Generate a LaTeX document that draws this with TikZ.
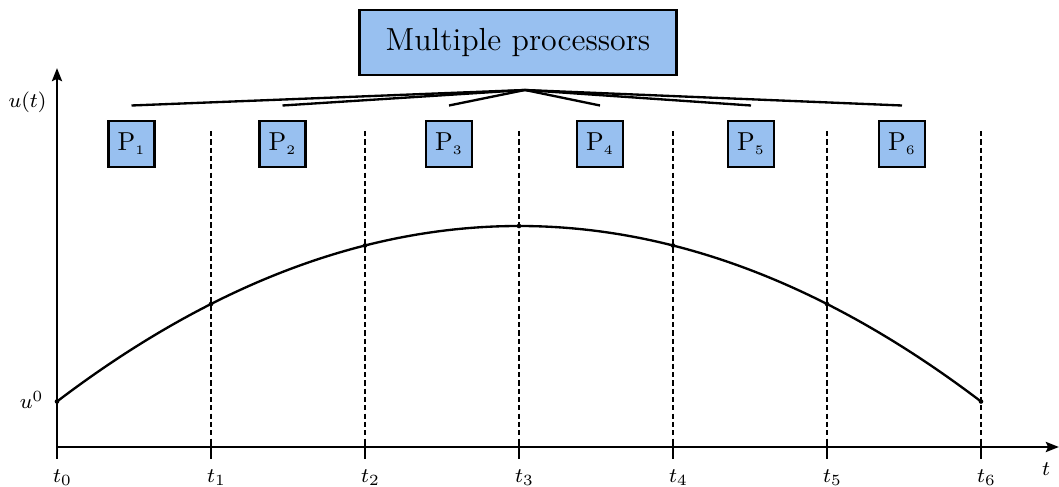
\documentclass[tikz,border=0pt]{standalone}
\usetikzlibrary{arrows.meta}
\definecolor{procblue}{RGB}{152,192,240}
\begin{document}
\begin{tikzpicture}[x=0.385pt,y=-0.385pt,
  axisline/.style={line width=1.1pt,-{Stealth[length=5pt,width=3.8pt,inset=0.8pt]}},
  gridline/.style={line width=0.85pt,dash pattern=on 2pt off 1.2pt},
  tickline/.style={line width=0.9pt},
  fanline/.style={line width=0.9pt},
  procbox/.style={draw,line width=0.9pt,fill=procblue,minimum width=17.7pt,minimum height=17.7pt,inner sep=0pt},
  headbox/.style={draw,line width=0.9pt,fill=procblue,minimum width=122pt,minimum height=25pt,inner sep=0pt,font=\fontsize{12.3}{15}\selectfont},
  axislabel/.style={inner sep=0pt,font=\fontsize{8.5}{10}\selectfont},
  ticklabel/.style={anchor=north,inner sep=0pt,font=\fontsize{8.5}{10}\selectfont},
  dot/.style={circle,fill,inner sep=0pt,minimum size=1.8pt}]
\useasboundingbox (0,0) rectangle (1059,487);

% axes
\coordinate (origin) at (57,447);
\coordinate (ybot) at (57,459);
\coordinate (ytop) at (57,68);
\coordinate (xend) at (1059,447);
\draw[axisline] (ybot) -- (ytop);
\draw[axisline] (origin) -- (xend);
\node[axislabel] (ulab) at (27.5,102) {$u(t)$};
\node[axislabel] (tlab) at (1046,469) {$t$};

% time grid, ticks and labels
\foreach \i/\x in {0/57,1/211,2/365,3/519,4/673,5/827,6/981}{
  \coordinate (top\i) at (\x,131);
  \coordinate (ax\i) at (\x,447);
  \coordinate (tk\i) at (\x,441);
  \coordinate (bt\i) at (\x,459);
  \draw[tickline] (tk\i) -- (bt\i);
  \node[ticklabel] (lab\i) at (\x+5.5,469) {$t_\i$};
}
\foreach \i in {1,...,6}{
  \draw[gridline] (top\i) -- (ax\i);
}

% solution curve: a parabola peaking at t_3
\draw[line width=0.9pt] plot[domain=-3:3,samples=121,smooth]
  ({519+154*\x},{226+19.5*\x*\x});
\foreach \i in {0,...,6}{
  \node[dot] (dot\i) at ({57+154*\i},{226+19.5*(\i-3)*(\i-3)}) {};
}
\node[axislabel,anchor=east] (u0) at (44,400) {$u^0$};

% processors
\node[headbox] (multi) at (518,42.5) {Multiple processors};
\coordinate (hub) at (525,90);
\foreach \i/\x in {1/131.5,2/282.5,3/449,4/600,5/751,6/902}{
  \node[procbox] (p\i) at (\x,143.7) {$\mathrm{P}_{\scriptscriptstyle\i}$};
  \coordinate (f\i) at (\x,105.5);
  \draw[fanline] (hub) -- (f\i);
}
\end{tikzpicture}
\end{document}
